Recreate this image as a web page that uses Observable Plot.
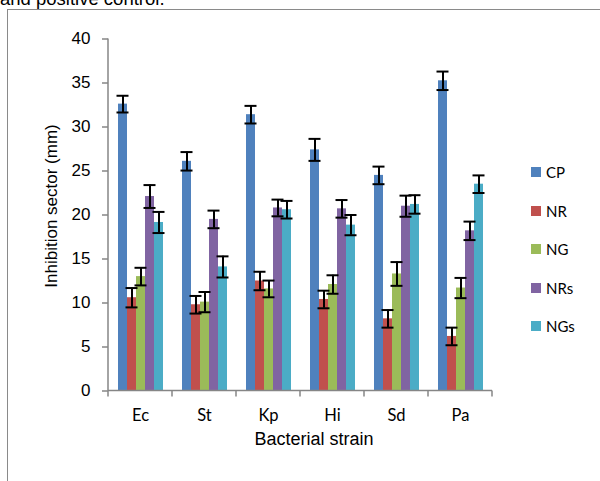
<!DOCTYPE html>
<html><head><meta charset="utf-8">
<script src="https://cdn.jsdelivr.net/npm/d3@7"></script>
<script src="https://cdn.jsdelivr.net/npm/@observablehq/plot@0.6"></script>
<style>
html,body{margin:0;padding:0;background:#fff;}
#wrap{position:relative;width:600px;height:481px;overflow:hidden;font-family:"Liberation Sans",Arial,sans-serif;color:#000;}
#wrap svg{position:absolute;left:0;top:0;overflow:visible;}
#toptext{position:absolute;left:0;top:-10px;font-size:18.5px;white-space:nowrap;line-height:1;}
#border{position:absolute;left:7px;top:9px;width:700px;height:600px;border-left:1.5px solid #8a8a8a;border-top:1.5px solid #8a8a8a;}
#ytitle{position:absolute;left:52px;top:206px;transform:translate(-50%,-50%) rotate(-90deg);font-size:17px;white-space:nowrap;}
#xtitle{position:absolute;left:314px;top:439px;transform:translate(-50%,-50%);font-size:18px;white-space:nowrap;}
.leg{position:absolute;left:531px;height:10px;display:flex;align-items:center;font-family:Lato,"Open Sans",sans-serif;font-size:15px;}
.leg span.sw{display:inline-block;width:10px;height:10px;margin-right:5px;}
g[aria-label^="y-axis"] line, g[aria-label^="y-axis"] path{stroke:#868686;stroke-width:1.5;}
g[aria-label^="y-axis"] text{font-family:"Liberation Sans",Arial,sans-serif;font-size:17px;fill:#000;}
g[aria-label^="fx-axis"] text{font-family:Lato,"Open Sans",sans-serif;font-size:16.5px;fill:#000;}
</style></head><body><div id="wrap"><div id="border"></div><div id="toptext">and positive control.</div></div>
<script>
const strains = ["Ec", "St", "Kp", "Hi", "Sd", "Pa"];
const seriesNames = ["CP", "NR", "NG", "NRs", "NGs"];
const seriesColors = ["#4F81BD", "#C0504D", "#9BBB59", "#8064A2", "#4BACC6"];
const CP = [32.6, 26.1, 31.4, 27.4, 24.5, 35.25];
const CPerr = [0.95, 1.05, 1.0, 1.25, 1.0, 1.05];
const NR = [10.6, 9.8, 12.5, 10.4, 8.2, 6.2];
const NRerr = [1.1, 1.0, 1.05, 1.0, 1.0, 1.0];
const NG = [13.0, 10.1, 11.6, 12.1, 13.3, 11.7];
const NGerr = [1.0, 1.15, 0.95, 1.05, 1.35, 1.15];
const NRs = [22.1, 19.5, 20.8, 20.7, 21.0, 18.2];
const NRserr = [1.3, 1.0, 0.95, 1.0, 1.2, 1.05];
const NGs = [19.15, 14.1, 20.6, 18.85, 21.2, 23.5];
const NGserr = [1.2, 1.2, 1.0, 1.15, 1.05, 1.0];
const yTicks = [0, 5, 10, 15, 20, 25, 30, 35, 40];

const values = {CP, NR, NG, NRs, NGs};
const errors = {CP: CPerr, NR: NRerr, NG: NGerr, NRs: NRserr, NGs: NGserr};
const data = [];
strains.forEach((s, i) => seriesNames.forEach(k => data.push({strain: s, series: k, value: values[k][i], err: errors[k][i]})));

const plot = Plot.plot({
  width: 600,
  height: 481,
  marginLeft: 107,
  marginRight: 107,
  marginTop: 38.5,
  marginBottom: 90.5,
  fx: {domain: strains, padding: 0, label: null, tickSize: 0, tickPadding: 18},
  x: {domain: seriesNames, paddingInner: 0, paddingOuter: 0.78, axis: null},
  y: {domain: [0, 40], ticks: yTicks, tickSize: 6, tickPadding: 12, label: null},
  color: {domain: seriesNames, range: seriesColors},
  marks: [
    Plot.barY(data, {fx: "strain", x: "series", y: "value", fill: "series"}),
    Plot.ruleX(data, {fx: "strain", x: "series", y1: d => d.value - d.err, y2: d => d.value + d.err, stroke: "#000", strokeWidth: 2}),
    Plot.tickY(data, {fx: "strain", x: "series", y: d => d.value - d.err, stroke: "#000", strokeWidth: 2, insetLeft: -1.5, insetRight: -1.5}),
    Plot.tickY(data, {fx: "strain", x: "series", y: d => d.value + d.err, stroke: "#000", strokeWidth: 2, insetLeft: -1.5, insetRight: -1.5})
  ]
});

const wrap = document.getElementById("wrap");
wrap.insertBefore(plot, wrap.firstChild);

// axis lines and category boundary ticks from the plot's own scales
const fxs = plot.scale("fx"), ys = plot.scale("y");
const bw = fxs.bandwidth;
const edges = strains.map(s => fxs.apply(s));
edges.push(fxs.apply(strains[strains.length - 1]) + bw);
const y0 = ys.apply(0), yTop = ys.apply(40);
const g = d3.select(plot).append("g").attr("stroke", "#868686").attr("stroke-width", 1.5);
g.append("line").attr("x1", edges[0]).attr("x2", edges[0]).attr("y1", y0).attr("y2", yTop);
g.append("line").attr("x1", edges[0]).attr("x2", edges[edges.length - 1]).attr("y1", y0).attr("y2", y0);
edges.forEach(x => g.append("line").attr("x1", x).attr("x2", x).attr("y1", y0).attr("y2", y0 + 6));

// titles
const yt = document.createElement("div"); yt.id = "ytitle"; yt.textContent = "Inhibition sector (mm)"; wrap.appendChild(yt);
const xt = document.createElement("div"); xt.id = "xtitle"; xt.textContent = "Bacterial strain"; wrap.appendChild(xt);

// legend
seriesNames.forEach((name, i) => {
  const d = document.createElement("div");
  d.className = "leg";
  d.style.top = (167 + i * 38.5) + "px";
  const sw = document.createElement("span"); sw.className = "sw"; sw.style.background = seriesColors[i];
  d.appendChild(sw);
  d.appendChild(document.createTextNode(name));
  wrap.appendChild(d);
});
</script>
</body></html>
